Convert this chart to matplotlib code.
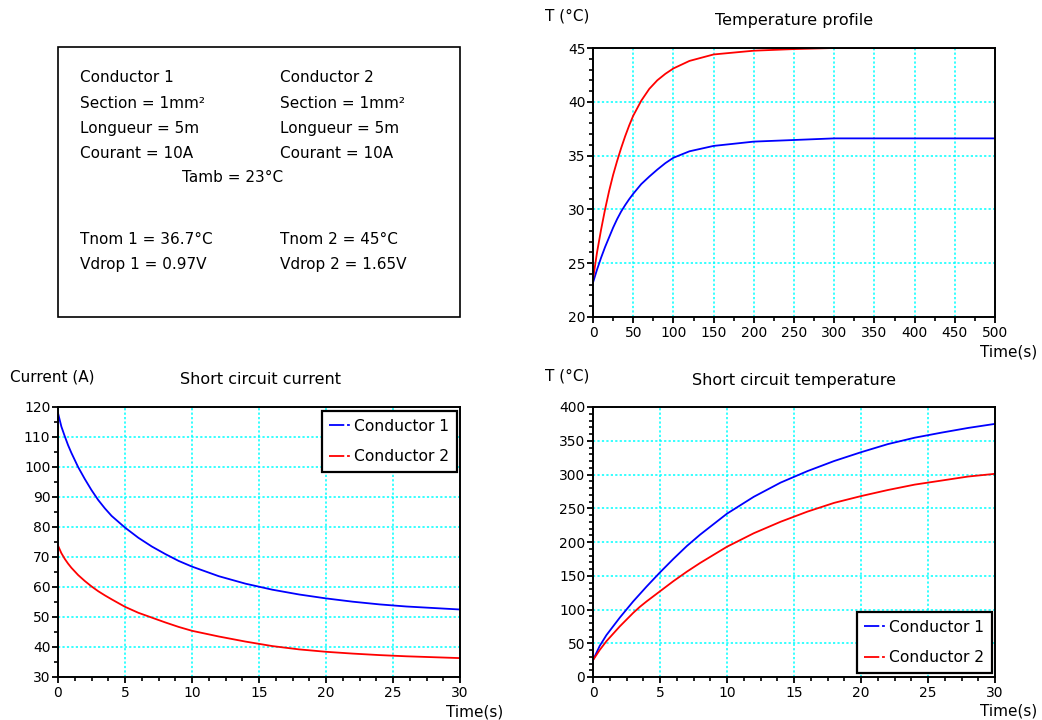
import matplotlib
matplotlib.use("Agg")
import matplotlib.pyplot as plt
from matplotlib.lines import Line2D
from matplotlib.patches import Rectangle
from matplotlib.ticker import MultipleLocator

# ---------------- data ----------------
# Temperature profile (steady state heating)
tp_time = [0, 5, 10, 15, 20, 25, 30, 35, 40, 45, 50, 60, 70, 80, 90, 100, 120, 150, 200, 250, 300, 400, 500]
tp_cond1 = [23.2, 24.4, 25.5, 26.5, 27.4, 28.3, 29.1, 29.8, 30.4, 30.95, 31.45, 32.35, 33.05, 33.7, 34.3,
            34.8, 35.4, 35.9, 36.3, 36.45, 36.6, 36.6, 36.6]
tp_cond2 = [23.5, 26.0, 28.1, 30.0, 31.7, 33.2, 34.5, 35.7, 36.8, 37.8, 38.7, 40.1, 41.2, 42.0, 42.6,
            43.1, 43.8, 44.4, 44.75, 44.9, 45.0, 45.0, 45.0]

# Short circuit current
sc_time = [0, 0.25, 0.5, 0.75, 1, 1.5, 2, 2.5, 3, 3.5, 4, 5, 6, 7, 8, 9, 10, 12, 14, 16, 18, 20, 22, 24, 26, 28, 30]
sc_cur1 = [118, 113.5, 110.3, 107.3, 104.7, 100, 96, 92.3, 89, 86.2, 83.7, 79.8, 76.4, 73.5, 71.0, 68.7,
           66.8, 63.6, 61.1, 59.1, 57.5, 56.2, 55.1, 54.2, 53.5, 53.0, 52.5]
sc_cur2 = [73.8, 71.3, 69.4, 67.8, 66.4, 64, 62, 60.2, 58.6, 57.2, 55.9, 53.4, 51.4, 49.8, 48.2, 46.7,
           45.4, 43.5, 41.8, 40.3, 39.2, 38.4, 37.8, 37.3, 36.9, 36.6, 36.3]

# Short circuit temperature
st_time = [0, 0.5, 1, 1.5, 2, 2.5, 3, 3.5, 4, 5, 6, 7, 8, 10, 12, 14, 16, 18, 20, 22, 24, 26, 28, 30]
st_temp1 = [25, 46, 62, 75, 88, 100, 112, 123, 134, 155, 175, 194, 211, 242, 267, 288, 305, 320, 333,
            345, 354.5, 362, 369, 375]
st_temp2 = [25, 40, 53, 64, 75, 85, 95, 104, 112, 127, 142, 156, 169, 193, 213, 230, 245, 258, 268,
            277, 285, 291, 297, 301]

series_labels = ["Conductor 1", "Conductor 2"]
series_colors = ["#0000ff", "#ff0000"]

info_col1 = ["Conductor 1", "Section = 1mm²", "Longueur = 5m", "Courant = 10A"]
info_col2 = ["Conductor 2", "Section = 1mm²", "Longueur = 5m", "Courant = 10A"]
info_amb = "Tamb = 23°C"
info_res1 = ["Tnom 1 = 36.7°C", "Vdrop 1 = 0.97V"]
info_res2 = ["Tnom 2 = 45°C", "Vdrop 2 = 1.65V"]

# ---------------- layout ----------------
W, H = 1042, 720
plt.rcParams['font.family'] = ['DejaVu Sans']
plt.rcParams['lines.scale_dashes'] = False
fig = plt.figure(figsize=(W / 100, H / 100), dpi=100)


def fx(x):
    return x / W


def fy(y):
    return 1 - y / H


def make_axes(l, t, r, b):
    return fig.add_axes([fx(l), fy(b), (r - l) / W, (b - t) / H])


TXT = 11
TITLE = 11.5
TICK = 10


def style_axes(ax, xlim, ylim, xmaj, xmin, ymaj, ymin):
    ax.set_xlim(*xlim)
    ax.set_ylim(*ylim)
    ax.xaxis.set_major_locator(MultipleLocator(xmaj))
    ax.xaxis.set_minor_locator(MultipleLocator(xmin))
    ax.yaxis.set_major_locator(MultipleLocator(ymaj))
    ax.yaxis.set_minor_locator(MultipleLocator(ymin))
    ax.grid(True, which='major', color='#00ffff', linestyle=(0, (1.6, 1.6)), linewidth=1.1)
    ax.set_axisbelow(True)
    for s in ax.spines.values():
        s.set_linewidth(1.4)
        s.set_color('black')
    ax.tick_params(which='major', direction='out', length=4, width=1.3, labelsize=TICK, pad=1.5, colors='black')
    ax.tick_params(which='minor', direction='out', length=3, width=1.2)
    ax.tick_params(axis='x', which='major', pad=2.5)


# ---- text box ----
fig.patches.append(Rectangle((fx(58), fy(317)), (460 - 58) / W, (317 - 47) / H,
                             transform=fig.transFigure, fill=False, edgecolor='black', linewidth=1.2))
rows_y = [78, 103, 128, 153]
for txt, y in zip(info_col1, rows_y):
    fig.text(fx(80), fy(y), txt, fontsize=TXT, va='center', ha='left')
for txt, y in zip(info_col2, rows_y):
    fig.text(fx(280), fy(y), txt, fontsize=TXT, va='center', ha='left')
fig.text(fx(233), fy(178), info_amb, fontsize=TXT, va='center', ha='center')
for txt, y in zip(info_res1, [240, 265]):
    fig.text(fx(80), fy(y), txt, fontsize=TXT, va='center', ha='left')
for txt, y in zip(info_res2, [240, 265]):
    fig.text(fx(280), fy(y), txt, fontsize=TXT, va='center', ha='left')

# ---- temperature profile ----
ax1 = make_axes(593, 48, 995, 317)
ax1.plot(tp_time, tp_cond1, color=series_colors[0], linewidth=1.3)
ax1.plot(tp_time, tp_cond2, color=series_colors[1], linewidth=1.3)
style_axes(ax1, (0, 500), (20, 45), 50, 25, 5, 1)
fig.text(fx(794), fy(20), "Temperature profile", fontsize=TITLE, ha='center', va='center')
fig.text(fx(545), fy(16), "T (°C)", fontsize=TXT, ha='left', va='center')
fig.text(fx(1037), fy(352), "Time(s)", fontsize=TXT, ha='right', va='center')

# legend handles
handles = [Line2D([], [], color=c, linewidth=1.3, linestyle=(0, (11, 2, 2, 2))) for c in series_colors]


def add_legend(ax, loc, anchor):
    leg = ax.legend(handles, series_labels, loc=loc, bbox_to_anchor=anchor, borderaxespad=0,
                    fontsize=11.2, handlelength=1.3, handletextpad=0.3, labelspacing=1.0,
                    borderpad=0.5, fancybox=False, framealpha=1, edgecolor='black')
    leg.get_frame().set_linewidth(1.6)
    return leg


# ---- short circuit current ----
ax2 = make_axes(58, 407, 460, 677)
ax2.plot(sc_time, sc_cur1, color=series_colors[0], linewidth=1.3)
ax2.plot(sc_time, sc_cur2, color=series_colors[1], linewidth=1.3)
style_axes(ax2, (0, 30), (30, 120), 5, 1.25, 10, 5)
add_legend(ax2, 'upper right', (0.9925, 0.985))
fig.text(fx(260), fy(380), "Short circuit current", fontsize=TITLE, ha='center', va='center')
fig.text(fx(10), fy(377), "Current (A)", fontsize=TXT, ha='left', va='center')
fig.text(fx(503), fy(712), "Time(s)", fontsize=TXT, ha='right', va='center')

# ---- short circuit temperature ----
ax3 = make_axes(593, 407, 995, 677)
ax3.plot(st_time, st_temp1, color=series_colors[0], linewidth=1.3)
ax3.plot(st_time, st_temp2, color=series_colors[1], linewidth=1.3)
style_axes(ax3, (0, 30), (0, 400), 5, 1.25, 50, 10)
add_legend(ax3, 'lower right', (0.9925, 0.015))
fig.text(fx(794), fy(380), "Short circuit temperature", fontsize=TITLE, ha='center', va='center')
fig.text(fx(545), fy(376), "T (°C)", fontsize=TXT, ha='left', va='center')
fig.text(fx(1037), fy(711), "Time(s)", fontsize=TXT, ha='right', va='center')

fig.savefig("out.png", dpi=100)
